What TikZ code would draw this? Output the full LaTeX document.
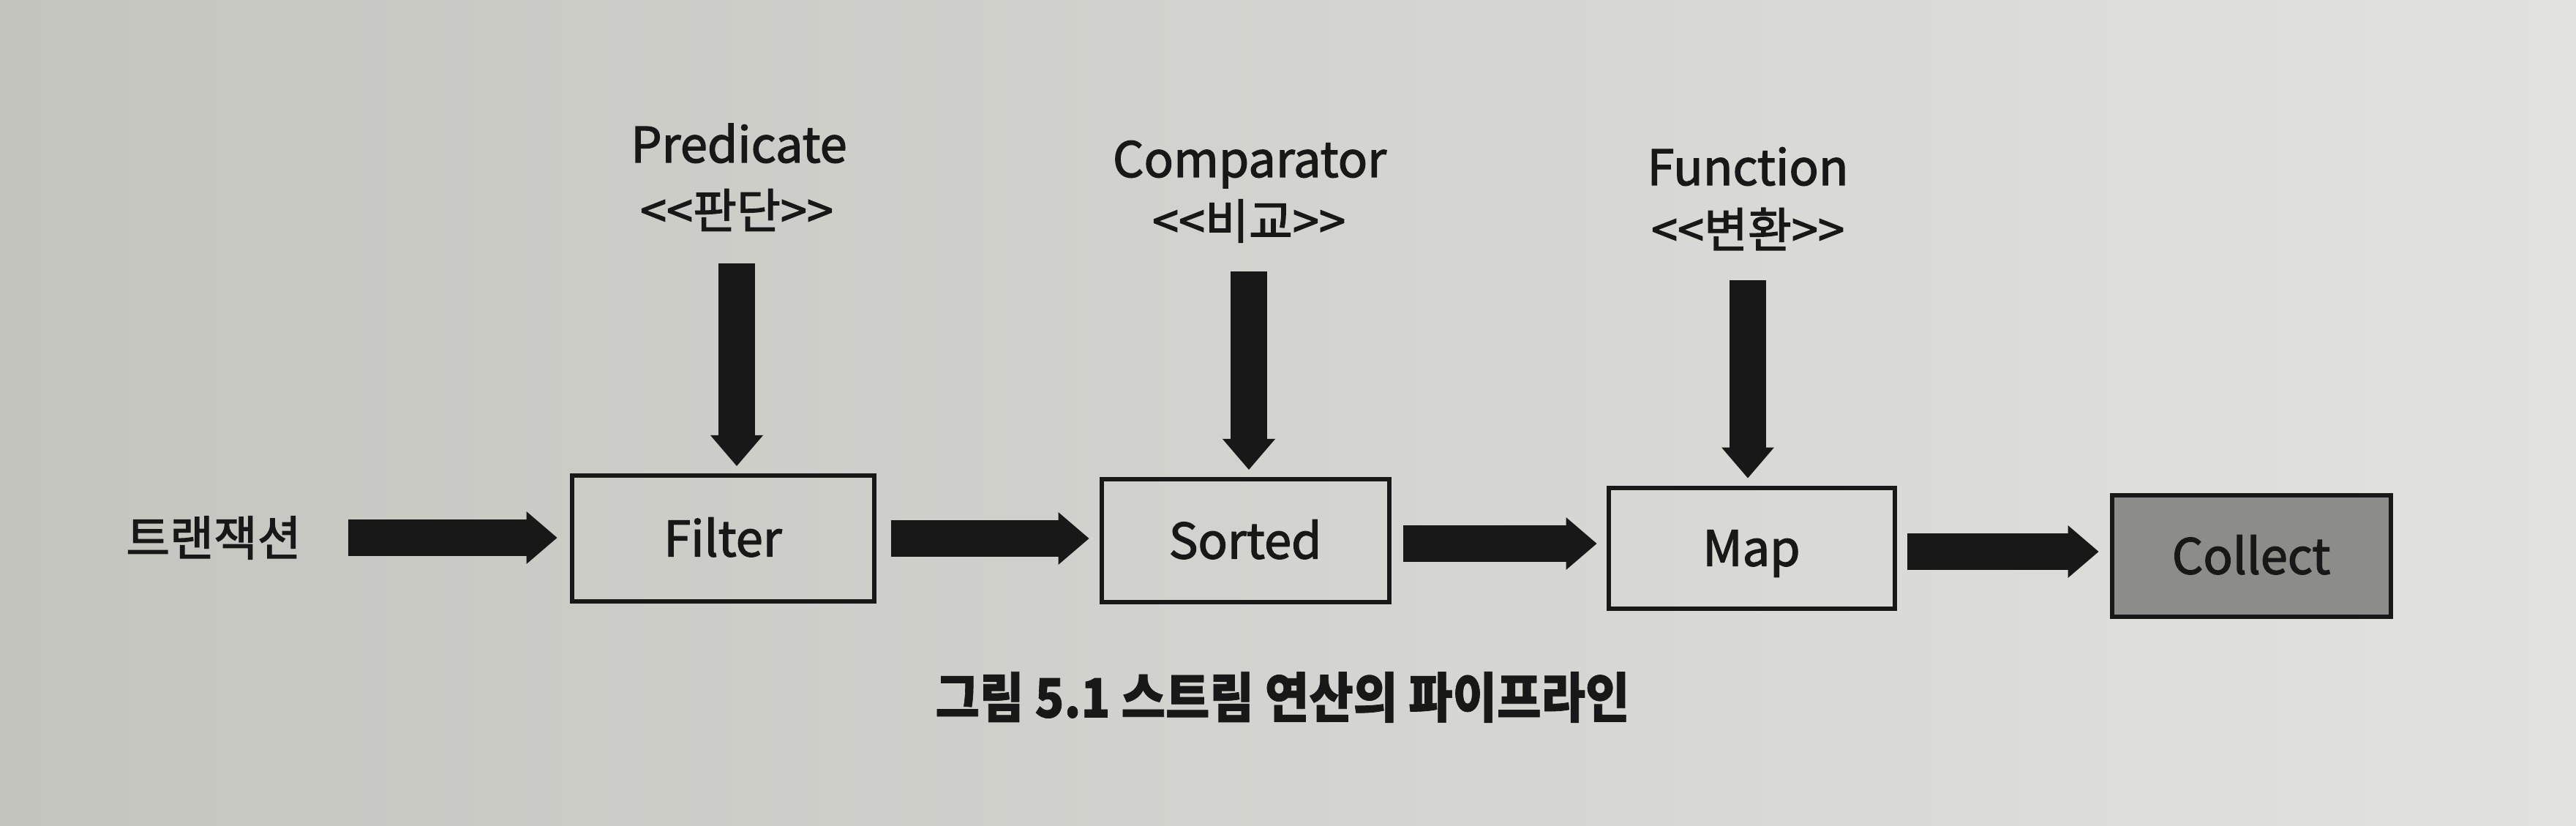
\documentclass[tikz,border=0pt]{standalone}
\usepackage{fontspec}
\usepackage{graphicx}
\setmainfont{Noto Sans CJK KR}[Ligatures=TeXOff, FakeBold=2]
\newfontfamily\capfam{Noto Sans CJK KR}[Ligatures=TeXOff, BoldFeatures={FakeBold=1}]
\usetikzlibrary{arrows.meta}
\definecolor{ink}{RGB}{24,24,24}
\definecolor{boxgray}{RGB}{140,140,137}
\definecolor{bgL}{RGB}{196,197,191}
\definecolor{bgM}{RGB}{214,215,210}
\definecolor{bgR}{RGB}{226,227,223}
\newcommand\labfont{\fontsize{19}{23}\selectfont}
\newcommand\korfont{\fontsize{18.5}{22}\selectfont}
\newcommand\capfont{\capfam\fontsize{21}{25}\selectfont\bfseries}
\begin{document}
\begin{tikzpicture}[
  stage/.style={draw=ink, line width=0.06cm, inner sep=0pt, text height=16pt, text depth=2.1pt, font=\labfont, text=ink},
  lab/.style={inner sep=0pt, outer sep=0pt, font=\labfont, text=ink, anchor=base},
  kor/.style={inner sep=0pt, outer sep=0pt, font=\korfont, text=ink},
  flow/.style={draw=ink, line width=0.5cm, -{Triangle[width=0.72cm,length=0.42cm,line width=0pt]}},
]
\useasboundingbox (0,0) rectangle (35.21,11.28);
\shade[left color=bgL, middle color=bgM, right color=bgR] (0,0) rectangle (35.21,11.28);

% pipeline
\node[kor] (trans) at (2.92,3.93) {트랜잭션};
\node[stage, minimum width=4.13cm, minimum height=1.72cm] (filter) at (9.88,3.92) {Filter};
\node[stage, minimum width=3.93cm, minimum height=1.68cm] (sorted) at (17.02,3.89) {Sorted};
\node[stage, minimum width=3.91cm, minimum height=1.65cm] (map) at (23.94,3.79) {Map};
\node[stage, fill=boxgray, minimum width=3.81cm, minimum height=1.66cm] (collect) at (30.77,3.68) {Collect};

% labels above
\node[lab] (pname) at (10.10,9.06) {Predicate};
\node[kor] (pkor) at (10.07,8.41) {<<판단>>};
\node[lab] (cname) at (17.08,8.86) {Comparator};
\node[kor] (ckor) at (17.07,8.26) {<<비교>>};
\node[lab] (fname) at (23.89,8.75) {Function};
\node[kor] (fkor) at (23.89,8.15) {<<변환>>};

% horizontal arrows
\draw[flow, shorten <=0.64cm, shorten >=0.17cm] (trans.east) -- (trans.east -| filter.west);
\draw[flow, shorten <=0.20cm, shorten >=0.14cm] (filter.east) -- (filter.east -| sorted.west);
\draw[flow, shorten <=0.16cm, shorten >=0.13cm] ([yshift=-0.04cm]sorted.east) -- ([yshift=-0.04cm]sorted.east -| map.west);
\draw[flow, shorten <=0.14cm, shorten >=0.15cm] ([yshift=-0.05cm]map.east) -- ([yshift=-0.05cm]map.east -| collect.west);

% vertical arrows
\draw[flow, shorten <=0.44cm, shorten >=0.10cm] (pkor.south) -- (pkor.south |- filter.north);
\draw[flow, shorten <=0.40cm, shorten >=0.10cm] (ckor.south) -- (ckor.south |- sorted.north);
\draw[flow, shorten <=0.41cm, shorten >=0.10cm] (fkor.south) -- (fkor.south |- map.north);

% caption
\node[font=\capfont, text=ink, inner sep=0pt] (cap) at (17.53,1.75) {\scalebox{0.89}[1]{그림 5.1 스트림 연산의 파이프라인}};
\end{tikzpicture}
\end{document}
